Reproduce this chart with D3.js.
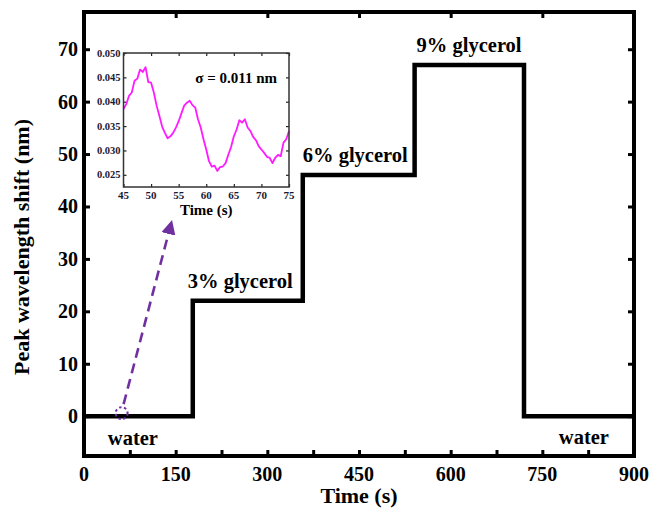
<!DOCTYPE html>
<html>
<head>
<meta charset="utf-8">
<script src="https://cdn.jsdelivr.net/npm/d3@7"></script>
<style>
  html, body { margin: 0; padding: 0; background: #fff; }
  svg { display: block; }
</style>
</head>
<body>
<svg id="chart" width="650" height="517"></svg>
<script>
// Step response: time (s) at which each level starts, and the shift (nm) held from then on
const stepTimes = [0, 178, 358, 541, 720, 900];
const stepShift = [0, 22, 46, 67, 0, 0];

// Solution labels placed at the start of each plateau
const stepLabels = ["water", "3% glycerol", "6% glycerol", "9% glycerol", "water"];

// Main axis ticks
const xTicks = [0, 150, 300, 450, 600, 750, 900];
const xMinorTicks = [0, 75, 150, 225, 300, 375, 450, 525, 600, 675, 750, 825, 900];
const yTicks = [0, 10, 20, 30, 40, 50, 60, 70];

// Baseline noise in water, 45–75 s
const noiseTime = [45, 45.5, 46, 46.5, 47, 47.5, 48, 48.5, 49, 49.5, 50, 50.5, 51, 51.5, 52, 52.5,
  53, 53.5, 54, 54.5, 55, 55.5, 56, 56.5, 57, 57.5, 58, 58.5, 59, 59.5, 60, 60.5, 61, 61.5,
  62, 62.5, 63, 63.5, 64, 64.5, 65, 65.5, 66, 66.5, 67, 67.5, 68, 68.5, 69, 69.5, 70, 70.5,
  71, 71.5, 72, 72.5, 73, 73.5, 74, 74.5, 75];
const noiseShift = [0.0385, 0.0395, 0.0412, 0.0419, 0.0443, 0.0447, 0.0466, 0.0461, 0.0471, 0.0440,
  0.0439, 0.0419, 0.0392, 0.0371, 0.0349, 0.0336, 0.0325, 0.0329, 0.0336, 0.0347, 0.0360,
  0.0376, 0.0392, 0.0398, 0.0402, 0.0393, 0.0388, 0.0364, 0.0347, 0.0323, 0.0302, 0.0278,
  0.0267, 0.0269, 0.0258, 0.0266, 0.0267, 0.0274, 0.0291, 0.0307, 0.0329, 0.0343, 0.0362,
  0.0357, 0.0364, 0.0347, 0.0340, 0.0328, 0.0321, 0.0309, 0.0302, 0.0295, 0.0287, 0.0285,
  0.0274, 0.0285, 0.0291, 0.0288, 0.0316, 0.0323, 0.0340];
const insetXTicks = [45, 50, 55, 60, 65, 70, 75];
const insetYTicks = [0.025, 0.030, 0.035, 0.040, 0.045, 0.050];
const sigmaText = "σ = 0.011 nm";

// Time around which the noise trace was taken
const zoomTime = 61.5;

const FONT = "'Liberation Serif', 'Times New Roman', serif";

const svg = d3.select("#chart");

// every label in the figure uses the bold serif face
function label(sel, size, color) {
  return sel.attr("font-family", FONT).attr("font-weight", "bold")
    .attr("font-size", size).attr("fill", color || "#000");
}

// ---------- main plot ----------
const frame = { left: 84, top: 12, right: 634, bottom: 456 };
const x = d3.scaleLinear().domain([0, 900]).range([frame.left, frame.right]);
const y = d3.scaleLinear().domain([-7.6, 77.1]).range([frame.bottom, frame.top]);

// ticks pointing inward on all four sides
const tickLen = 6;
const mainTickStyle = g => {
  g.select(".domain").remove();
  g.selectAll("line").attr("stroke", "#000").attr("stroke-width", 3);
};
svg.append("g")
  .attr("transform", `translate(0,${frame.bottom})`)
  .call(d3.axisTop(x).tickValues(xMinorTicks).tickSize(tickLen).tickFormat("")).call(mainTickStyle);
svg.append("g")
  .attr("transform", `translate(0,${frame.top})`)
  .call(d3.axisBottom(x).tickValues(xTicks).tickSize(tickLen).tickFormat("")).call(mainTickStyle);
svg.append("g")
  .attr("transform", `translate(${frame.left},0)`)
  .call(d3.axisRight(y).tickValues(yTicks).tickSize(tickLen).tickFormat("")).call(mainTickStyle);
svg.append("g")
  .attr("transform", `translate(${frame.right},0)`)
  .call(d3.axisLeft(y).tickValues(yTicks).tickSize(tickLen).tickFormat("")).call(mainTickStyle);

// tick labels
svg.append("g").selectAll("text").data(xTicks).join("text")
  .call(label, 20)
  .attr("x", d => x(d)).attr("y", 481)
  .attr("text-anchor", "middle")
  .text(d => d);
svg.append("g").selectAll("text").data(yTicks).join("text")
  .call(label, 20)
  .attr("x", frame.left - 6).attr("y", d => y(d)).attr("dy", "0.35em")
  .attr("text-anchor", "end")
  .text(d => d);

// axis titles
svg.append("text")
  .call(label, 22)
  .attr("x", (frame.left + frame.right) / 2).attr("y", 503)
  .attr("text-anchor", "middle")
  .text("Time (s)");
svg.append("text")
  .call(label, 22)
  .attr("transform", `translate(29,${(frame.top + frame.bottom) / 2 + 13}) rotate(-90)`)
  .attr("text-anchor", "middle")
  .text("Peak wavelength shift (nm)");

// step trace
const steps = stepTimes.map((t, i) => [t, stepShift[i]]);
svg.append("path")
  .datum(steps)
  .attr("fill", "none").attr("stroke", "#000").attr("stroke-width", 4.5)
  .attr("stroke-linejoin", "miter")
  .attr("d", d3.line().x(d => x(d[0])).y(d => y(d[1])).curve(d3.curveStepAfter));

// frame drawn over the trace ends
svg.append("rect")
  .attr("x", frame.left).attr("y", frame.top)
  .attr("width", frame.right - frame.left).attr("height", frame.bottom - frame.top)
  .attr("fill", "none").attr("stroke", "#000").attr("stroke-width", 4);

// plateau labels
const labelSpecs = [
  { i: 0, x: 80, dy: 29, anchor: "middle" },
  { i: 1, dx: -5, dy: -13, anchor: "start" },
  { i: 2, dx: 0, dy: -13, anchor: "start" },
  { i: 3, dx: 2, dy: -13, anchor: "start" },
  { i: 4, x: 818, dy: 28, anchor: "middle" }
];
svg.append("g").selectAll("text").data(labelSpecs).join("text")
  .call(label, 20.5)
  .attr("x", d => (d.x !== undefined ? x(d.x) : x(stepTimes[d.i]) + d.dx))
  .attr("y", d => y(stepShift[d.i]) + d.dy)
  .attr("text-anchor", d => d.anchor)
  .text(d => stepLabels[d.i]);

// ---------- inset: baseline noise ----------
const inset = { left: 123.5, top: 53, right: 289, bottom: 187 };
const ix = d3.scaleLinear().domain([45, 75]).range([inset.left, inset.right]);
const iy = d3.scaleLinear().domain([0.0225, 0.050]).range([inset.bottom, inset.top]);
const itick = 3;
const insetTickStyle = g => {
  g.select(".domain").remove();
  g.selectAll("line").attr("stroke", "#222").attr("stroke-width", 1.2);
};
svg.append("g").attr("transform", `translate(0,${inset.bottom})`)
  .call(d3.axisTop(ix).tickValues(insetXTicks).tickSize(itick).tickFormat("")).call(insetTickStyle);
svg.append("g").attr("transform", `translate(0,${inset.top})`)
  .call(d3.axisBottom(ix).tickValues(insetXTicks).tickSize(itick).tickFormat("")).call(insetTickStyle);
svg.append("g").attr("transform", `translate(${inset.left},0)`)
  .call(d3.axisRight(iy).tickValues(insetYTicks).tickSize(itick).tickFormat("")).call(insetTickStyle);
svg.append("g").attr("transform", `translate(${inset.right},0)`)
  .call(d3.axisLeft(iy).tickValues(insetYTicks).tickSize(itick).tickFormat("")).call(insetTickStyle);

const noise = noiseTime.map((t, i) => [t, noiseShift[i]]);
svg.append("path")
  .datum(noise)
  .attr("fill", "none").attr("stroke", "#ff1aff").attr("stroke-width", 1.8)
  .attr("stroke-linejoin", "round")
  .attr("d", d3.line().x(d => ix(d[0])).y(d => iy(d[1])));

svg.append("rect")
  .attr("x", inset.left).attr("y", inset.top)
  .attr("width", inset.right - inset.left).attr("height", inset.bottom - inset.top)
  .attr("fill", "none").attr("stroke", "#333").attr("stroke-width", 1.5);

svg.append("g").selectAll("text").data(insetXTicks).join("text")
  .call(label, 11, "#1a1a33")
  .attr("x", d => ix(d)).attr("y", inset.bottom + 12)
  .attr("text-anchor", "middle")
  .text(d => d);
svg.append("g").selectAll("text").data(insetYTicks).join("text")
  .call(label, 10.5, "#1a1a33")
  .attr("x", inset.left - 3).attr("y", d => iy(d)).attr("dy", "0.35em")
  .attr("text-anchor", "end")
  .text(d => d3.format(".3f")(d));
svg.append("text")
  .call(label, 15)
  .attr("x", (inset.left + inset.right) / 2).attr("y", inset.bottom + 28)
  .attr("text-anchor", "middle")
  .text("Time (s)");
svg.append("text")
  .call(label, 15)
  .attr("x", inset.right - 12).attr("y", inset.top + 30)
  .attr("text-anchor", "end")
  .text(sigmaText);

// ---------- zoom marker and arrow ----------
const purple = "#7030a0";
const cx = x(zoomTime), cy = y(0) - 3;
svg.append("circle")
  .attr("cx", cx).attr("cy", cy).attr("r", 6)
  .attr("fill", "none").attr("stroke", purple).attr("stroke-width", 2)
  .attr("stroke-dasharray", "2.5,2.5");

svg.append("defs").append("marker")
  .attr("id", "head").attr("viewBox", "0 0 10 10")
  .attr("refX", 1).attr("refY", 5)
  .attr("markerWidth", 5.5).attr("markerHeight", 5.5)
  .attr("markerUnits", "strokeWidth")
  .attr("orient", "auto")
  .append("path").attr("d", "M0,0 L10,5 L0,10 Z").attr("fill", purple);

// arrow runs from the marker up to just below the inset's time label
const tipX = ix(53.8), tipY = inset.bottom + 33;
const headLen = 5.5 * 2.6 * 0.9;
const ang = Math.atan2(tipY - (cy - 9), tipX - (cx + 2));
svg.append("line")
  .attr("x1", cx + 2).attr("y1", cy - 9)
  .attr("x2", tipX - headLen * Math.cos(ang)).attr("y2", tipY - headLen * Math.sin(ang))
  .attr("stroke", purple).attr("stroke-width", 2.6)
  .attr("stroke-dasharray", "10,6")
  .attr("marker-end", "url(#head)");
</script>
</body>
</html>
